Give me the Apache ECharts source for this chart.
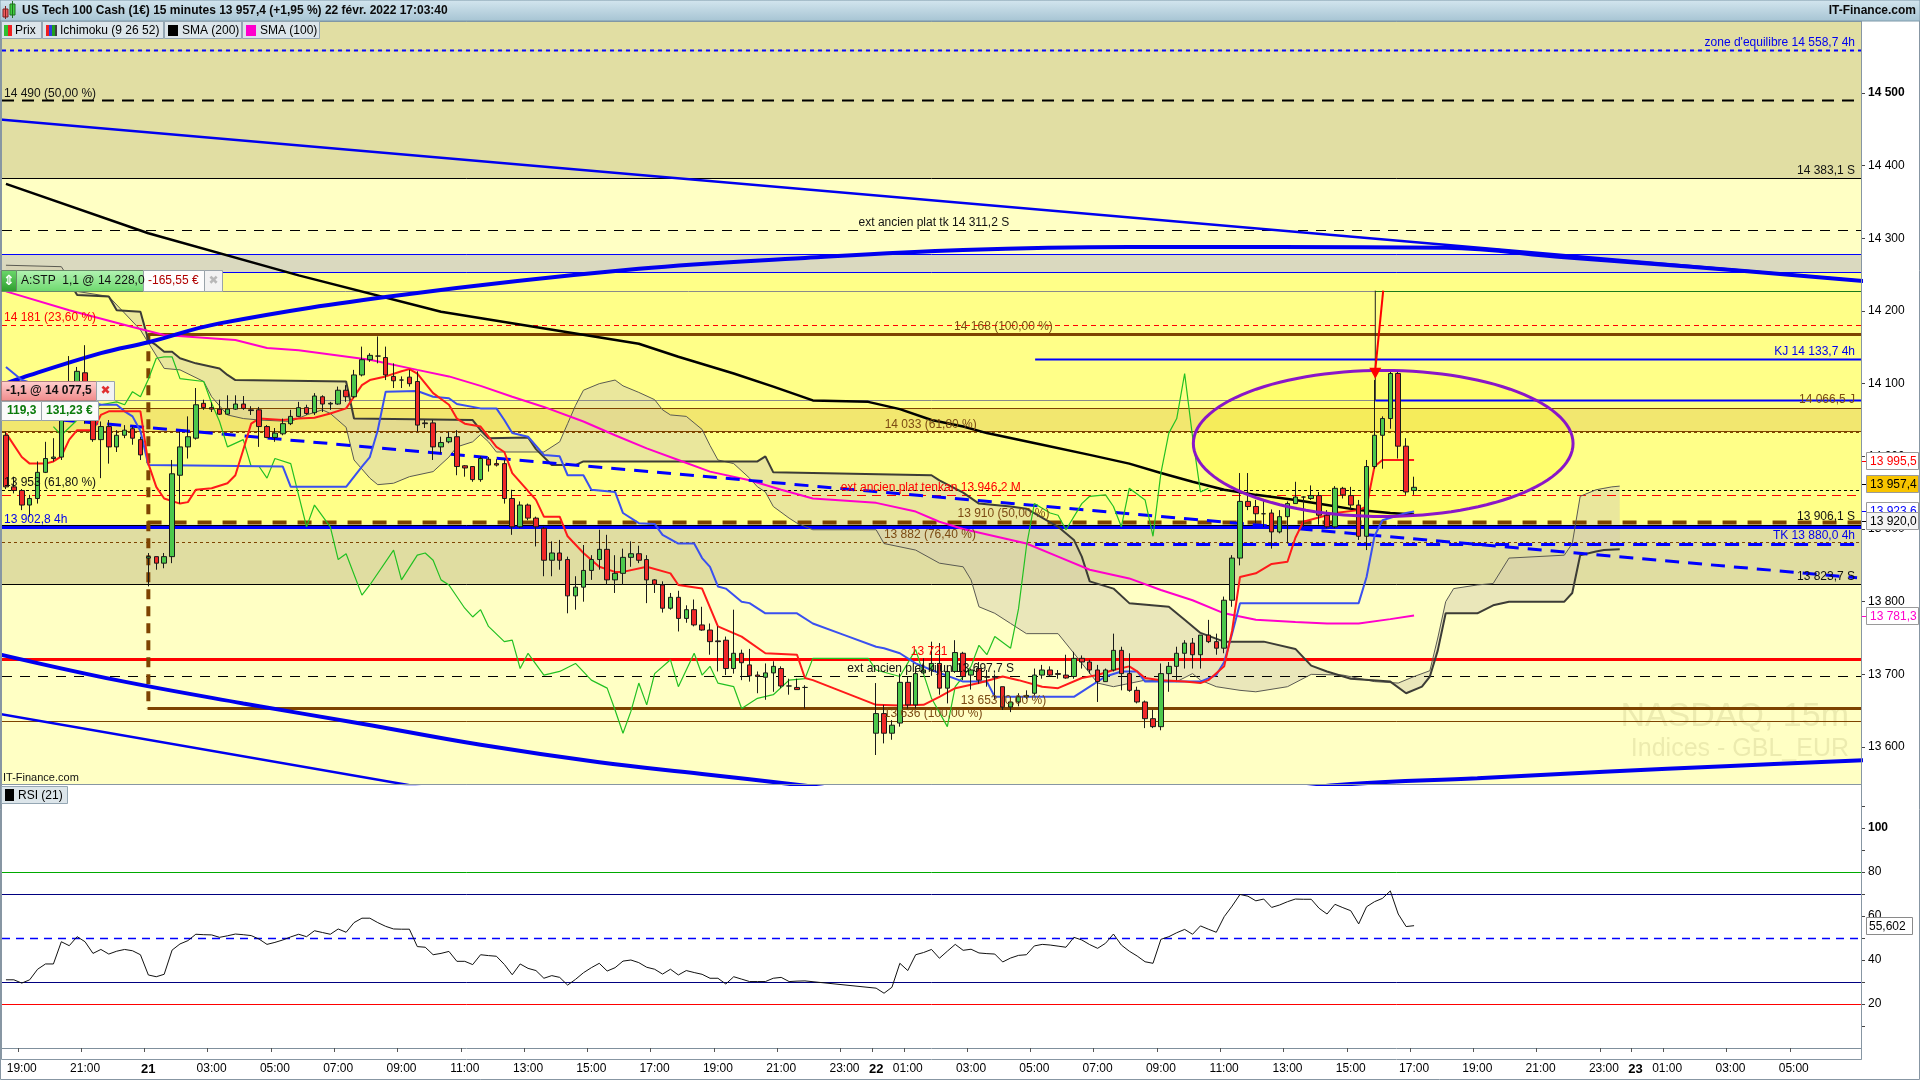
<!DOCTYPE html>
<html><head><meta charset="utf-8">
<script src="https://cdn.jsdelivr.net/npm/echarts@6/dist/echarts.min.js"></script>
<style>html,body{margin:0;padding:0;background:#fff;overflow:hidden}#c{width:1920px;height:1080px}</style>
</head><body><div id="c"></div>
<script>
const FONT = '"Liberation Sans", Arial, sans-serif';

// ---------- time slots (15 min) ----------
const N_SLOTS = 235;
const CATEGORIES = [];
for (let k = 0; k < N_SLOTS; k++) {
  const t = k < 18 ? Date.UTC(2022,1,20,18,30) + k*900000 : Date.UTC(2022,1,21,1,0) + (k-18)*900000;
  const d = new Date(t);
  CATEGORIES.push(d.getUTCDate() + '/02 ' + String(d.getUTCHours()).padStart(2,'0') + ':' + String(d.getUTCMinutes()).padStart(2,'0'));
}
const X_TICK_LABELS = {2:'19:00',10:'21:00',18:'21',26:'03:00',34:'05:00',42:'07:00',50:'09:00',58:'11:00',66:'13:00',74:'15:00',82:'17:00',90:'19:00',98:'21:00',106:'23:00',110:'22',114:'01:00',122:'03:00',130:'05:00',138:'07:00',146:'09:00',154:'11:00',162:'13:00',170:'15:00',178:'17:00',186:'19:00',194:'21:00',202:'23:00',206:'23',210:'01:00',218:'03:00',226:'05:00'};
const Y_TICKS = [13600,13700,13800,13900,14000,14100,14200,14300,14400,14500];
const RSI_LABELS = [20,40,60,80,100];
const RSI_TICKS = [10,20,30,40,50,60,70,80,90,100,110];

// ---------- candles [open, high, low, close] per slot ----------
const OHLC = [
[14029,14034,13955,13958],[13958,13972,13949,13953],[13953,13955,13926,13933],[13933,13947,13917,13942],[13942,13993,13935,13978],
[13978,14020,13977,13997],[13997,14025,13993,13999],[13999,14075,13995,14070],[14070,14138,14060,14103],[14103,14123,14095,14117],
[14115,14153,14045,14050],[14050,14064,14020,14023],[14023,14048,13970,14041],[14041,14050,13990,14013],[14013,14036,14006,14029],
[14029,14043,14025,14036],[14038,14041,14016,14025],[14023,14027,13995,14002],[13860,13867,13821,13862],[13862,13862,13844,13853],
[13853,13867,13846,13862],[13862,13995,13853,13976],[13974,14034,13935,14013],[14013,14055,13997,14027],[14025,14094,14023,14071],
[14073,14078,14064,14067],[14067,14074,14061,14065],[14065,14078,14057,14058],[14058,14084,14057,14065],[14065,14084,14064,14072],
[14072,14083,14064,14066],[14064,14069,14057,14063],[14064,14068,14013,14041],[14041,14043,14025,14026],[14026,14039,14020,14032],
[14031,14052,14029,14045],[14045,14064,14043,14055],[14055,14075,14054,14067],[14067,14071,14057,14059],[14060,14087,14057,14083],
[14082,14084,14061,14072],[14072,14075,14064,14073],[14072,14096,14071,14091],[14091,14098,14075,14082],[14082,14119,14080,14112],
[14112,14151,14110,14133],[14133,14142,14130,14139],[14138,14165,14128,14138],[14136,14151,14105,14112],[14110,14128,14094,14104],
[14105,14110,14094,14105],[14109,14119,14096,14100],[14103,14117,14034,14043],[14046,14050,14039,14045],[14046,14050,13995,14013],
[14013,14027,14004,14019],[14020,14034,14018,14026],[14027,14036,13974,13986],[13987,13988,13972,13984],[13986,13986,13965,13968],
[13968,14000,13965,13997],[13996,13999,13979,13988],[13990,13996,13986,13988],[13990,13995,13935,13942],[13942,13954,13892,13903],
[13903,13938,13901,13933],[13933,13935,13912,13915],[13915,13917,13876,13903],[13901,13903,13835,13857],[13857,13883,13835,13867],
[13867,13885,13844,13857],[13858,13862,13784,13808],[13808,13835,13789,13820],[13820,13878,13800,13843],[13843,13864,13830,13858],
[13858,13899,13844,13872],[13872,13892,13823,13830],[13830,13864,13812,13839],[13839,13873,13823,13861],[13861,13883,13848,13866],
[13866,13877,13853,13857],[13858,13864,13798,13830],[13830,13831,13812,13824],[13823,13828,13785,13791],[13791,13812,13789,13806],
[13806,13815,13759,13777],[13777,13795,13771,13789],[13789,13803,13766,13768],[13768,13793,13760,13761],[13761,13770,13727,13745],
[13746,13766,13704,13745],[13747,13752,13699,13708],[13708,13789,13701,13729],[13729,13734,13692,13716],[13713,13735,13690,13698],
[13699,13704,13674,13697],[13696,13715,13665,13702],[13702,13718,13676,13711],[13708,13711,13681,13684],[13684,13694,13672,13684],
[13682,13694,13679,13679],[13682,13685,13653,13682],
null,null,null,null,null,null,null,null,
[13619,13688,13589,13646],[13646,13658,13605,13619],[13619,13637,13610,13630],[13633,13701,13628,13689],[13689,13697,13653,13658],
[13658,13711,13653,13701],[13702,13722,13700,13706],[13706,13745,13698,13715],[13715,13743,13672,13681],[13681,13712,13660,13704],
[13704,13747,13702,13730],[13729,13731,13692,13697],[13699,13708,13679,13706],[13708,13717,13687,13692],[13697,13706,13683,13696],
[13697,13700,13665,13696],[13683,13683,13651,13655],[13655,13669,13648,13662],[13662,13674,13656,13669],[13669,13678,13666,13671],
[13674,13708,13671,13699],[13699,13713,13694,13706],[13706,13711,13697,13699],[13701,13706,13694,13700],[13699,13727,13694,13695],
[13697,13731,13694,13722],[13722,13726,13708,13717],[13717,13720,13701,13706],[13706,13713,13662,13690],[13690,13708,13690,13706],
[13706,13756,13704,13733],[13733,13738,13678,13701],[13701,13729,13676,13678],[13678,13683,13660,13662],[13662,13664,13626,13639],
[13639,13651,13626,13628],[13628,13715,13623,13701],[13701,13717,13676,13711],[13711,13738,13692,13729],[13729,13747,13708,13743],
[13743,13750,13708,13727],[13727,13754,13708,13754],[13754,13775,13743,13745],[13745,13756,13727,13736],[13736,13807,13729,13802],
[13802,13864,13793,13860],[13860,13977,13850,13938],[13938,13977,13926,13931],[13931,13940,13908,13921],[13921,13940,13903,13921],
[13922,13927,13873,13896],[13896,13926,13894,13917],[13917,13938,13880,13935],[13935,13965,13935,13944],[13944,13945,13903,13944],
[13942,13960,13940,13946],[13946,13951,13906,13919],[13919,13926,13901,13903],[13903,13959,13901,13956],[13956,13958,13942,13947],
[13946,13958,13926,13933],[13933,13940,13885,13890],[13890,13995,13871,13986],[13986,14105,13983,14029],[14029,14055,13983,14052],
[14052,14117,14038,14114],[14114,14117,13997,14014],[14014,14025,13947,13951],[13953,13972,13947,13957.4]
];

// ---------- indicators: [slot, value] ----------
const TENKAN = [[0,14032],[2,13999],[3,13990],[5,13990],[6,13993],[7,14000],[8,14023],[9,14036],[11,14036],[12,14057],[13,14062],[17,14062],[18,13990],[19,13958],[20,13942],[22,13935],[23,13937],[24,13954],[26,13956],[28,13963],[29,13974],[30,14009],[31,14045],[32,14052],[35,14050],[37,14052],[39,14053],[41,14059],[43,14066],[44,14082],[45,14098],[46,14105],[48,14110],[50,14117],[51,14120],[52,14114],[54,14087],[56,14071],[57,14052],[58,14045],[60,14041],[62,14013],[63,14006],[64,13977],[67,13940],[68,13917],[70,13917],[71,13890],[73,13867],[75,13848],[77,13841],[78,13841],[81,13848],[84,13839],[85,13823],[88,13818],[90,13766],[93,13752],[96,13729],[100,13727],[101,13695],[102,13692],[110,13658],[113,13657],[116,13658],[118,13669],[120,13681],[123,13688],[126,13697],[128,13692],[131,13683],[133,13681],[136,13695],[138,13699],[140,13706],[142,13711],[143,13704],[144,13695],[146,13692],[149,13690],[151,13688],[152,13692],[154,13711],[155,13760],[156,13834],[158,13839],[160,13852],[162,13855],[163,13888],[164,13910],[168,13922],[171,13926],[172,13931],[173,13986],[174,13995],[178,13995]];
const KIJUN = [[0,14123],[1,14114],[2,14105],[7,14088],[12,14071],[14,14071],[15,14062],[16,14055],[17,14035],[18,13988],[35,13986],[36,13958],[43,13958],[45,13986],[46,13999],[47,14036],[48,14089],[52,14090],[54,14082],[56,14080],[57,14072],[60,14066],[62,14066],[63,14050],[64,14032],[66,14027],[68,14002],[70,14000],[71,13974],[73,13974],[74,13954],[77,13951],[78,13922],[80,13908],[82,13907],[83,13892],[85,13880],[87,13880],[88,13860],[89,13848],[90,13821],[91,13818],[93,13800],[94,13798],[96,13784],[100,13784],[102,13770],[106,13754],[110,13738],[111,13736],[113,13729],[115,13715],[117,13706],[121,13690],[124,13690],[125,13669],[135,13669],[137,13683],[139,13697],[141,13704],[143,13704],[144,13690],[151,13690],[153,13699],[154,13717],[155,13756],[156,13798],[171,13798],[172,13834],[173,13890],[174,13912],[177,13922],[178,13924]];
const CHIKOU = [[6,14041],[7,14029],[9,14050],[12,14071],[14,14075],[15,14071],[16,14089],[17,14082],[18,14106],[19,14135],[20,14137],[21,14137],[22,14107],[25,14103],[26,14073],[27,14048],[28,14013],[30,14023],[31,13986],[32,13986],[33,13970],[34,13997],[36,13990],[38,13903],[39,13933],[41,13903],[42,13858],[43,13866],[45,13809],[46,13823],[49,13871],[50,13830],[52,13864],[53,13867],[54,13857],[55,13830],[56,13823],[58,13791],[59,13779],[60,13789],[61,13766],[63,13745],[64,13747],[65,13708],[66,13729],[68,13699],[70,13704],[72,13715],[74,13692],[76,13681],[77,13651],[78,13619],[79,13649],[80,13688],[81,13658],[82,13701],[84,13720],[85,13683],[87,13729],[88,13699],[89,13711],[90,13688],[92,13683],[93,13653],[95,13667],[97,13672],[99,13692],[101,13694],[102,13722],[109,13722],[110,13706],[113,13697],[115,13734],[117,13667],[119,13628],[120,13683],[122,13711],[123,13740],[124,13727],[125,13752],[127,13736],[128,13790],[129,13876],[130,13935],[132,13922],[133,13919],[134,13899],[136,13935],[137,13945],[139,13947],[140,13931],[141,13903],[142,13956],[144,13940],[145,13890],[146,13977],[147,14032],[148,14052],[149,14114],[150,14027],[151,13951],[152,13956]];
const SENKOU_A = [[0,14263],[7,14261],[9,14227],[13,14220],[17,14174],[20,14121],[22,14119],[25,14103],[26,14082],[28,14057],[30,14052],[32,14050],[36,14048],[38,14057],[40,14064],[41,14059],[43,14040],[44,13995],[46,13970],[47,13961],[49,13963],[51,13972],[54,13979],[56,13999],[57,14013],[59,14020],[60,14030],[61,14020],[62,14006],[68,14006],[70,14020],[71,14045],[72,14070],[73,14091],[75,14100],[77,14105],[78,14097],[80,14088],[82,14078],[83,14064],[84,14057],[86,14055],[88,14037],[89,14015],[90,13995],[92,13990],[94,13970],[95,13958],[96,13951],[97,13931],[99,13915],[100,13908],[102,13899],[110,13899],[111,13880],[115,13871],[118,13853],[121,13848],[122,13830],[123,13793],[125,13784],[127,13770],[129,13756],[133,13756],[135,13729],[138,13688],[140,13683],[144,13692],[148,13690],[150,13701],[151,13692],[153,13683],[156,13678],[158,13676],[162,13683],[165,13700],[169,13699],[173,13690],[176,13688],[178,13697],[180,13705],[181,13750],[182,13800],[183,13818],[186,13823],[188,13825],[190,13860],[197,13864],[198,13880],[199,13945],[201,13954],[203,13958],[204,13959]];
const SENKOU_B = [[0,14245],[8,14240],[9,14222],[13,14220],[14,14201],[17,14199],[18,14160],[19,14153],[20,14144],[21,14144],[22,14135],[24,14128],[27,14121],[28,14112],[29,14105],[43,14103],[44,14052],[59,14050],[60,14036],[61,14025],[66,14026],[67,14010],[69,13988],[72,13988],[73,13993],[95,13993],[96,14000],[97,13978],[117,13974],[118,13967],[121,13950],[123,13935],[127,13931],[129,13928],[133,13903],[135,13885],[136,13862],[137,13828],[140,13818],[142,13798],[147,13793],[149,13775],[151,13757],[154,13745],[159,13745],[163,13735],[165,13712],[167,13704],[170,13694],[175,13690],[177,13674],[179,13683],[180,13697],[181,13733],[182,13784],[186,13784],[188,13795],[190,13800],[197,13800],[198,13812],[199,13864],[201,13869],[202,13871],[204,13872]];
const SMA200 = [[0,14375],[18,14307],[37,14249],[55,14199],[80,14155],[85,14137],[92,14114],[97,14096],[102,14077],[109,14075],[113,14065],[117,14050],[121,14041],[124,14032],[131,14016],[137,14002],[142,13990],[146,13977],[150,13965],[154,13954],[158,13947],[163,13940],[167,13933],[171,13926],[175,13922],[178,13920]];
const SMA100 = [[0,14227],[8,14201],[16,14178],[20,14167],[29,14160],[33,14149],[37,14146],[46,14133],[52,14119],[56,14110],[60,14097],[64,14082],[68,14068],[73,14048],[77,14029],[81,14011],[85,13995],[89,13979],[94,13967],[98,13954],[102,13942],[110,13936],[115,13924],[118,13910],[121,13900],[125,13890],[129,13880],[133,13862],[137,13844],[142,13832],[146,13816],[150,13802],[154,13784],[158,13775],[163,13772],[167,13770],[171,13770],[175,13776],[178,13781]];
const RSI = [31,31,29.5,31,35.8,38.2,38.2,48.3,46.5,50.6,48.3,43,44.8,42.7,44,44.8,44.2,42.4,33.2,32.4,33.5,44.5,47.3,48.8,51.7,51.5,51.4,50.3,51,51.8,51.5,51.1,49.5,47.1,48,49.1,50.5,51.7,50.6,53.3,52.5,51.7,54.1,52.6,57,59,59,57,55.3,54.1,54,54,46.1,45.8,42.4,43,43.9,39.4,39.4,37.9,42.4,42,41.7,38,33.3,38.2,36.2,35.2,31.7,32.9,32.1,28.6,31.2,34.2,36.5,38.5,35,36.5,39.5,40,38.8,36.7,35.8,33.6,35.8,33.2,35.2,34.3,33.5,31.7,31.7,29.1,32.4,31.3,30.2,30.2,30.2,31.7,32.1,30.2,30.4,30.5,
null,null,null,null,null,null,null,null,
27.2,24.9,27.6,38.5,35.2,42.4,43.4,44.8,40.8,44,47.1,44.4,44.9,43.2,42.9,42.7,39.1,40.9,42.1,42.4,46.4,47.1,46.8,46.3,45.8,50.3,49.1,47,45.3,47.6,51.8,46.8,44,41.8,39.2,38.5,49.4,50.6,52.4,53.9,51.7,55.5,54,52.6,59.7,64.5,69.8,69,66.9,67.7,63.9,65,66.5,67.7,67.6,67.6,63.5,60.9,65.3,63.8,62.4,56.4,64.2,66.5,68,71.4,60.9,55.2,55.6];

// ---------- drawn trendlines / arcs [slot, value] ----------
const UP_ARC = [[-1,14096],[2,14108],[12,14142],[18,14157],[27,14183],[50,14222],[80,14258],[101,14273],[121,14284],[142,14288],[161,14288],[182,14287],[197,14274],[213,14261],[235,14241]];
const UP_LINE = [[-1,14463.7],[235,14241.1]];
const LOW_ARC_L = [[-1,13728],[14,13692],[30,13660],[45,13632],[60,13603],[75,13579],[88,13563],[100,13548],[110,13535]];
const LOW_ARC_R = [[160,13538],[170,13549],[186,13557],[202,13566],[218,13574],[235,13582]];
const LOW_LINE = [[-1,13646],[56,13538]];
const TREND_DASH = [[7,14050],[234,13833]];
const ELLIPSE = {cx:174.1, cy:14017.7, rx:24.0, ry:100.5};
const ARROW = {from:[174.1,14228], to:[173.1,14108]};

// ---------- price levels ----------
const ZONES = [ // [top, bottom, color]
 [14600,14383.1,'#E1DEA3'],[14383.1,14278.5,'#FFFFC4'],[14278.5,14253.7,'#DAD9BF'],[14253.7,14066.5,'#FFFF88'],
 [14066.5,14035,'#F2E76F'],[14035,13906.1,'#FFFF88'],[13906.1,13823.7,'#E0DDA1'],[13823.7,13540,'#FFFFC4']];
const LINE_STYLES = {
 blueDot:{stroke:'#0000FF',lineWidth:2,lineDash:[4,4]},
 blackDashBold:{stroke:'#000',lineWidth:2,lineDash:[12,8]},
 black1:{stroke:'#000',lineWidth:1},
 blackDash:{stroke:'#000',lineWidth:1,lineDash:[10,8]},
 blue1:{stroke:'#0000FF',lineWidth:1},
 gray1:{stroke:'#8a8a8a',lineWidth:1},
 green1:{stroke:'#1a7a1a',lineWidth:1},
 redDash:{stroke:'#FF0000',lineWidth:1,lineDash:[5,4]},
 redDash2:{stroke:'#FF0000',lineWidth:1,lineDash:[9,6]},
 brown3:{stroke:'#7E4300',lineWidth:3},
 brown1:{stroke:'#7E4300',lineWidth:1},
 brownDot:{stroke:'#7E4300',lineWidth:1,lineDash:[3,3]},
 brownDash4:{stroke:'#7E4300',lineWidth:4,lineDash:[14,11]},
 blackDot:{stroke:'#000',lineWidth:1,lineDash:[3,3]},
 blue2:{stroke:'#0000FF',lineWidth:2},
 blue3:{stroke:'#0000FF',lineWidth:3},
 blueDash3:{stroke:'#0000FF',lineWidth:3,lineDash:[14,9]},
 red3:{stroke:'#FF0000',lineWidth:3}
};
const HLINES = [ // [value, style, fromSlot, toSlot]
 [14558.7,'blueDot'],[14490,'blackDashBold'],[14383.1,'black1'],[14311.2,'blackDash'],[14278.5,'blue1'],[14253.7,'blue1'],
 [14228,'gray1',-0.5,173.1],[14228,'green1',173.1],[14181,'redDash'],[14168,'brown3',17.9],[14133.7,'blue2',130.1],
 [14077.5,'gray1'],[14077.5,'blue2',173.1],[14066.5,'brown1'],[14035,'brown1'],[14033,'brownDot'],[13953,'blackDot'],
 [13946.2,'redDash2'],[13910,'brownDash4',17.9],[13906.1,'black1'],[13902.8,'blue3'],[13882,'brownDot'],[13880,'blueDash3',130.1],
 [13823.7,'black1'],[13721,'red3'],[13697.7,'blackDash'],[13653,'brown3',17.9],[13636,'brown1']];
const FIB_VERTICAL = {slot:18, top:14168, bottom:13653};
const TEXT_COLORS = {black:'#111', blue:'#0000EE', red:'#FF0000', brown:'#7B4A12'};
const TEXTS = [ // [text, anchor, slot, centerValue, color]
 ["zone d'equilibre 14 558,7 4h",'R',null,14569.2,'blue'],['14 490 (50,00 %)','L',null,14499.6,'black'],
 ['14 383,1 S','R',null,14393,'black'],['ext ancien plat tk 14 311,2 S','C',117.3,14321.5,'black'],
 ['14 181 (23,60 %)','L',null,14191.3,'red'],['14 168 (100,00 %)','C',126.1,14178.4,'brown'],
 ['KJ 14 133,7 4h','R',null,14144,'blue'],['14 066,5 J','R',null,14077.5,'brown'],
 ['14 033 (61,80 %)','C',116.9,14043.1,'brown'],['13 953 (61,80 %)','L',null,13963.7,'black'],
 ['ext ancien plat tenkan 13 946,2 M','C',116.9,13956.9,'red'],['13 910 (50,00 %)','C',126.1,13921.6,'brown'],
 ['13 906,1 S','R',null,13917,'black'],['13 902,8 4h','L',null,13912.4,'blue'],
 ['13 882 (76,40 %)','C',116.8,13891.8,'brown'],['TK 13 880,0 4h','R',null,13890.9,'blue'],
 ['13 823,7 S','R',null,13834.4,'black'],['13 721','C',116.7,13731.2,'red'],
 ['ext ancien plat kijun 13 697,7 S','C',116.9,13707.4,'black'],['13 653 (0,00 %)','C',126.1,13663.8,'brown'],
 ['13 636 (100,00 %)','C',117.2,13646.4,'brown']];
const PRICE_TAGS = [ // [value, text, textColor, bg, dy]
 [13995.5,'13 995,5','#FF0000','#FFFFFF',1],[13957.4,'13 957,4','#000','#F8C400',-3],
 [13923.6,'13 923,6','#0000FF','#FFFFFF',-1],[13920.0,'13 920,0','#000','#F4F4F4',7],[13781.3,'13 781,3','#FF00CC','#FFFFFF',1]];
const RSI_LEVELS = [[80,'#00AA00',1,null],[70,'#000080',1,null],[50,'#0000FF',1.5,[8,6]],[30,'#000080',1,null],[20,'#FF0000',1,null]];
const RSI_LAST = [55.602,'55,602'];

const Y_MIN = 13549.1, Y_MAX = 14599.1;
const fmt = v => String(v).replace(/\B(?=(\d{3})+(?!\d))/g, ' ');

function slotX(api, slot) { return api.coord([0, Y_MIN])[0] + slot * api.size([1, 0])[0]; }

function lineSeries(name, data, color, width, z, extra) {
  return Object.assign({name, type:'line', xAxisIndex:0, yAxisIndex:0, data, showSymbol:false, symbol:'none',
    silent:true, z, lineStyle:{color, width}, animation:false}, extra || {});
}

const chart = echarts.init(document.getElementById('c'), null, {renderer:'canvas', width:1920, height:1080});

const option = {
  animation:false,
  backgroundColor:'#FFFFFF',
  textStyle:{fontFamily:FONT},
  grid:[{left:2, top:21, width:1859, height:763}, {left:2, top:784, width:1859, height:275}],
  xAxis:[
    {type:'category', gridIndex:0, data:CATEGORIES, boundaryGap:true, axisLine:{show:false}, axisTick:{show:false}, axisLabel:{show:false}, splitLine:{show:false}},
    {type:'category', gridIndex:1, data:CATEGORIES, boundaryGap:true, position:'bottom',
     axisLine:{show:true, lineStyle:{color:'#7f8f9c'}},
     axisTick:{show:true, interval:(i)=>X_TICK_LABELS[i]!==undefined, length:4, lineStyle:{color:'#555'}},
     axisLabel:{interval:(i)=>X_TICK_LABELS[i]!==undefined, margin:4, fontSize:12, color:'#000', fontFamily:FONT,
       formatter:(v,i)=>{const t=X_TICK_LABELS[i]; if(t===undefined) return ''; return t.indexOf(':')<0 ? '{d|'+t+'}' : t;},
       rich:{d:{fontWeight:'bold', fontSize:13, fontFamily:FONT, color:'#000'}}},
     splitLine:{show:false}}
  ],
  yAxis:[
    {type:'value', gridIndex:0, position:'right', min:Y_MIN, max:Y_MAX, scale:true,
     axisLine:{show:true, lineStyle:{color:'#7f8f9c'}}, splitLine:{show:false},
     axisTick:{show:true, customValues:Y_TICKS, length:4, lineStyle:{color:'#444'}},
     axisLabel:{customValues:Y_TICKS, margin:7, fontSize:12, color:'#000', fontFamily:FONT,
       formatter:v=> v===14500 ? '{b|14 500}' : fmt(v), rich:{b:{fontWeight:'bold', fontSize:12, fontFamily:FONT, color:'#000'}}}},
    {type:'value', gridIndex:1, position:'right', min:-5, max:120,
     axisLine:{show:true, lineStyle:{color:'#7f8f9c'}}, splitLine:{show:false},
     axisTick:{show:true, customValues:RSI_TICKS, length:4, lineStyle:{color:'#444'}},
     axisLabel:{customValues:RSI_LABELS, margin:7, fontSize:12, color:'#000', fontFamily:FONT,
       formatter:v=> v===100 ? '{b|100}' : String(v), rich:{b:{fontWeight:'bold', fontSize:12, fontFamily:FONT, color:'#000'}}}}
  ],
  series:[
    // zones
    {type:'custom', xAxisIndex:0, yAxisIndex:0, z:0, silent:true, clip:true, data:ZONES.map((_,i)=>[0,i]),
     renderItem:(params, api)=>{
       const zn = ZONES[params.dataIndex]; const cs = params.coordSys;
       const y1 = api.coord([0, zn[0]])[1], y2 = api.coord([0, zn[1]])[1];
       return {type:'rect', shape:{x:cs.x, y:Math.min(y1,y2), width:cs.width, height:Math.abs(y2-y1)}, style:{fill:zn[2]}};
     }},
    // ellipse fill
    {type:'custom', xAxisIndex:0, yAxisIndex:0, z:1, silent:true, clip:true, data:[[0,0]],
     renderItem:(params, api)=>{
       const bw = api.size([1,0])[0]; const c = api.coord([0, ELLIPSE.cy]);
       const cx = slotX(api, ELLIPSE.cx); const rx = ELLIPSE.rx*bw;
       const ry = Math.abs(api.coord([0, ELLIPSE.cy+ELLIPSE.ry])[1]-c[1]);
       const pts=[]; for(let k=0;k<120;k++){const a=k/120*Math.PI*2; pts.push([cx+rx*Math.cos(a), c[1]+ry*Math.sin(a)]);}
       return {type:'polygon', shape:{points:pts}, style:{fill:'rgba(255,250,40,0.28)'}};
     }},
    // ichimoku cloud fill
    {type:'custom', xAxisIndex:0, yAxisIndex:0, z:1, silent:true, clip:true, data:[[0,0]],
     renderItem:(params, api)=>{
       const pts = SENKOU_A.map(p=>api.coord(p)).concat(SENKOU_B.slice().reverse().map(p=>api.coord(p)));
       return {type:'polygon', shape:{points:pts}, style:{fill:'rgba(214,208,175,0.5)'}};
     }},
    // horizontal levels + fib vertical
    {type:'custom', xAxisIndex:0, yAxisIndex:0, z:2, silent:true, clip:true, data:HLINES.map((_,i)=>[0,i]).concat([[0,-1]]),
     renderItem:(params, api)=>{
       if (params.dataIndex === HLINES.length) {
         const x = slotX(api, FIB_VERTICAL.slot);
         return {type:'line', shape:{x1:x, y1:api.coord([0,FIB_VERTICAL.top])[1], x2:x, y2:api.coord([0,FIB_VERTICAL.bottom])[1]},
                 style:{stroke:'#7E4300', lineWidth:4, lineDash:[10,7]}};
       }
       const h = HLINES[params.dataIndex]; const y = Math.round(api.coord([0,h[0]])[1]) + 0.5;
       const x1 = slotX(api, h[2]==null ? -0.5 : h[2]); const x2 = slotX(api, h[3]==null ? 234.5 : h[3]);
       return {type:'line', shape:{x1, y1:y, x2, y2:y}, style:Object.assign({}, LINE_STYLES[h[1]])};
     }},
    // cloud borders
    lineSeries('Senkou A', SENKOU_A, '#5a5a52', 1, 3),
    lineSeries('Senkou B', SENKOU_B, '#3c3c36', 2, 3),
    // SMAs
    lineSeries('SMA (200)', SMA200, '#000000', 2.5, 3),
    lineSeries('SMA (100)', SMA100, '#FF00CC', 2, 3),
    // blue drawings
    lineSeries('arc up', UP_ARC, '#0000EE', 4, 3, {smooth:0.4}),
    lineSeries('line up', UP_LINE, '#0000EE', 2.5, 3),
    lineSeries('arc low L', LOW_ARC_L, '#0000EE', 4, 3, {smooth:0.4}),
    lineSeries('arc low R', LOW_ARC_R, '#0000EE', 4, 3, {smooth:0.4}),
    lineSeries('line low', LOW_LINE, '#0000EE', 2.5, 3),
    lineSeries('trend', TREND_DASH, '#0000FF', 3, 3, {lineStyle:{color:'#0000FF', width:3, type:[14,9]}}),
    // ichimoku lines
    lineSeries('Chikou', CHIKOU, '#22C022', 1.2, 4),
    lineSeries('Kijun', KIJUN, '#3A50F0', 2, 4),
    lineSeries('Tenkan', TENKAN, '#FF1A1A', 2, 4),
    // candles
    {name:'Prix', type:'candlestick', xAxisIndex:0, yAxisIndex:0, z:5, barWidth:5, silent:true,
     data:OHLC.map(d=>d ? [d[0], d[3], d[2], d[1]] : '-'),
     itemStyle:{color:'#4CC84C', color0:'#F02828', borderColor:'#1a1a1a', borderColor0:'#1a1a1a', borderWidth:1}},
    // ellipse stroke
    {type:'custom', xAxisIndex:0, yAxisIndex:0, z:6, silent:true, clip:true, data:[[0,0]],
     renderItem:(params, api)=>{
       const bw = api.size([1,0])[0]; const c = api.coord([0, ELLIPSE.cy]);
       const cx = slotX(api, ELLIPSE.cx); const rx = ELLIPSE.rx*bw;
       const ry = Math.abs(api.coord([0, ELLIPSE.cy+ELLIPSE.ry])[1]-c[1]);
       const pts=[]; for(let k=0;k<120;k++){const a=k/120*Math.PI*2; pts.push([cx+rx*Math.cos(a), c[1]+ry*Math.sin(a)]);}
       return {type:'polygon', shape:{points:pts}, style:{fill:null, stroke:'#8A16C8', lineWidth:3}};
     }},
    // arrow
    {type:'custom', xAxisIndex:0, yAxisIndex:0, z:7, silent:true, clip:true, data:[[0,0]],
     renderItem:(params, api)=>{
       const x1 = slotX(api, ARROW.from[0]), y1 = api.coord([0, ARROW.from[1]])[1];
       const x2 = slotX(api, ARROW.to[0]), y2 = api.coord([0, ARROW.to[1]])[1];
       const yv = api.coord([0, 14077.5])[1];
       return {type:'group', children:[
         {type:'line', shape:{x1:x2, y1:y1, x2:x2, y2:yv}, style:{stroke:'#222', lineWidth:1}},
         {type:'line', shape:{x1, y1, x2, y2:y2-8}, style:{stroke:'#FF0000', lineWidth:2}},
         {type:'polygon', shape:{points:[[x2-6,y2-10],[x2+6,y2-10],[x2,y2+1]]}, style:{fill:'#FF0000'}}
       ]};
     }},
    // text labels
    {type:'custom', xAxisIndex:0, yAxisIndex:0, z:8, silent:true, clip:false, data:TEXTS.map((_,i)=>[0,i]),
     renderItem:(params, api)=>{
       const t = TEXTS[params.dataIndex]; const cs = params.coordSys;
       const y = api.coord([0, t[3]])[1];
       let x, align;
       if (t[1]==='L') { x = cs.x + 2; align='left'; }
       else if (t[1]==='R') { x = cs.x + cs.width - 6; align='right'; }
       else { x = slotX(api, t[2]); align='center'; }
       return {type:'text', x, y, style:{text:t[0], fill:TEXT_COLORS[t[4]], font:'12px '+FONT, align, verticalAlign:'middle', textAlign:align, textVerticalAlign:'middle'}};
     }},
    // watermark
    {type:'custom', xAxisIndex:0, yAxisIndex:0, z:1, silent:true, clip:false, data:[[0,0]],
     renderItem:(params, api)=>{
       const cs = params.coordSys; const xr = cs.x + cs.width - 12;
       return {type:'group', children:[
         {type:'text', x:xr, y:api.coord([0,13641.4])[1], style:{text:'NASDAQ, 15m', fill:'rgba(170,165,100,0.22)', font:'34px '+FONT, align:'right', verticalAlign:'middle', textAlign:'right', textVerticalAlign:'middle'}},
         {type:'text', x:xr, y:api.coord([0,13597])[1], style:{text:'Indices - GBL_EUR', fill:'rgba(170,165,100,0.22)', font:'25px '+FONT, align:'right', verticalAlign:'middle', textAlign:'right', textVerticalAlign:'middle'}}
       ]};
     }},
    // price tags on the right axis
    {type:'custom', xAxisIndex:0, yAxisIndex:0, z:9, silent:true, clip:false, data:PRICE_TAGS.map((_,i)=>[0,i]),
     renderItem:(params, api)=>{
       const p = PRICE_TAGS[params.dataIndex]; const cs = params.coordSys;
       const y = Math.round(api.coord([0,p[0]])[1]) + p[4]; const x = cs.x + cs.width + 5;
       return {type:'group', children:[
         {type:'line', shape:{x1:cs.x+cs.width, y1:y+0.5, x2:x, y2:y+0.5}, style:{stroke:p[2], lineWidth:1}},
         {type:'rect', shape:{x:x+0.5, y:y-8.5, width:52, height:17}, style:{fill:p[3], stroke:'#9a9a9a', lineWidth:1}},
         {type:'text', x:x+4, y:y+0.5, style:{text:p[1], fill:p[2], font:'12px '+FONT, align:'left', verticalAlign:'middle', textAlign:'left', textVerticalAlign:'middle'}}
       ]};
     }},
    // RSI levels
    {type:'custom', xAxisIndex:1, yAxisIndex:1, z:2, silent:true, clip:true, data:RSI_LEVELS.map((_,i)=>[0,i]),
     renderItem:(params, api)=>{
       const l = RSI_LEVELS[params.dataIndex]; const cs = params.coordSys;
       const y = Math.round(api.coord([0,l[0]])[1]) + 0.5;
       const st = {stroke:l[1], lineWidth:l[2]}; if (l[3]) st.lineDash = l[3];
       return {type:'line', shape:{x1:cs.x, y1:y, x2:cs.x+cs.width, y2:y}, style:st};
     }},
    {name:'RSI (21)', type:'line', xAxisIndex:1, yAxisIndex:1, data:RSI, showSymbol:false, symbol:'none', connectNulls:true,
     silent:true, z:4, lineStyle:{color:'#111', width:1}},
    {type:'custom', xAxisIndex:1, yAxisIndex:1, z:9, silent:true, clip:false, data:[[0,0]],
     renderItem:(params, api)=>{
       const cs = params.coordSys; const y = Math.round(api.coord([0,RSI_LAST[0]])[1]); const x = cs.x + cs.width + 5;
       return {type:'group', children:[
         {type:'rect', shape:{x:x+0.5, y:y-8.5, width:46, height:17}, style:{fill:'#fff', stroke:'#8a8a8a', lineWidth:1}},
         {type:'text', x:x+3, y:y+0.5, style:{text:RSI_LAST[1], fill:'#000', font:'12px '+FONT, align:'left', verticalAlign:'middle', textAlign:'left', textVerticalAlign:'middle'}}
       ]};
     }}
  ],
  graphic:[
    // header
    {type:'rect', z:100, shape:{x:0,y:0,width:1920,height:21}, style:{fill:{type:'linear',x:0,y:0,x2:0,y2:1,colorStops:[{offset:0,color:'#D4E6EF'},{offset:1,color:'#A6C4D3'}]}, stroke:'#7d98a8', lineWidth:1}},
    {type:'rect', z:101, shape:{x:3,y:9,width:5,height:8}, style:{fill:'#F06060', stroke:'#802020', lineWidth:1}},
    {type:'line', z:101, shape:{x1:5.5,y1:6,x2:5.5,y2:19}, style:{stroke:'#802020', lineWidth:1}},
    {type:'rect', z:101, shape:{x:10,y:4,width:5,height:11}, style:{fill:'#40D040', stroke:'#207020', lineWidth:1}},
    {type:'line', z:101, shape:{x1:12.5,y1:1,x2:12.5,y2:18}, style:{stroke:'#207020', lineWidth:1}},
    {type:'text', z:101, x:22, y:11, style:{text:'US Tech 100 Cash (1€) 15 minutes 13 957,4 (+1,95 %) 22 févr. 2022 17:03:40', fill:'#0a0a0a', font:'bold 12px '+FONT, verticalAlign:'middle', textVerticalAlign:'middle'}},
    {type:'text', z:101, x:1916, y:11, style:{text:'IT-Finance.com', fill:'#0a0a0a', font:'bold 12px '+FONT, align:'right', verticalAlign:'middle', textAlign:'right', textVerticalAlign:'middle'}},
    // legend buttons
    {type:'rect', z:100, shape:{x:1.5,y:21.5,width:40,height:17}, style:{fill:'#DCE5EA', stroke:'#94A6B3', lineWidth:1}},
    {type:'rect', z:101, shape:{x:4,y:25,width:4,height:11}, style:{fill:'#30C030'}},
    {type:'rect', z:101, shape:{x:8,y:25,width:4,height:11}, style:{fill:'#F02020'}},
    {type:'text', z:101, x:15, y:30.5, style:{text:'Prix', fill:'#000', font:'12px '+FONT, verticalAlign:'middle', textVerticalAlign:'middle'}},
    {type:'rect', z:100, shape:{x:42.5,y:21.5,width:121,height:17}, style:{fill:'#DCE5EA', stroke:'#94A6B3', lineWidth:1}},
    {type:'rect', z:101, shape:{x:46,y:25,width:3,height:11}, style:{fill:'#F02020'}},
    {type:'rect', z:101, shape:{x:49,y:25,width:3,height:11}, style:{fill:'#3040E0'}},
    {type:'rect', z:101, shape:{x:52,y:25,width:3,height:11}, style:{fill:'#20A020'}},
    {type:'rect', z:101, shape:{x:55,y:25,width:2,height:11}, style:{fill:'#404040'}},
    {type:'text', z:101, x:60, y:30.5, style:{text:'Ichimoku (9 26 52)', fill:'#000', font:'12px '+FONT, verticalAlign:'middle', textVerticalAlign:'middle'}},
    {type:'rect', z:100, shape:{x:164.5,y:21.5,width:77,height:17}, style:{fill:'#DCE5EA', stroke:'#94A6B3', lineWidth:1}},
    {type:'rect', z:101, shape:{x:168,y:25,width:10,height:11}, style:{fill:'#000'}},
    {type:'text', z:101, x:182, y:30.5, style:{text:'SMA (200)', fill:'#000', font:'12px '+FONT, verticalAlign:'middle', textVerticalAlign:'middle'}},
    {type:'rect', z:100, shape:{x:242.5,y:21.5,width:77,height:17}, style:{fill:'#DCE5EA', stroke:'#94A6B3', lineWidth:1}},
    {type:'rect', z:101, shape:{x:246,y:25,width:10,height:11}, style:{fill:'#FF00CC'}},
    {type:'text', z:101, x:260, y:30.5, style:{text:'SMA (100)', fill:'#000', font:'12px '+FONT, verticalAlign:'middle', textVerticalAlign:'middle'}},
    // order box A:STP
    {type:'rect', z:100, shape:{x:1.5,y:270.5,width:15,height:21}, style:{fill:{type:'linear',x:0,y:0,x2:0,y2:1,colorStops:[{offset:0,color:'#6CD86C'},{offset:1,color:'#2C9C2C'}]}, stroke:'#6a8a6a', lineWidth:1}},
    {type:'text', z:101, x:9, y:281, style:{text:'⇕', fill:'#fff', font:'bold 14px "DejaVu Sans", sans-serif', align:'center', verticalAlign:'middle', textAlign:'center', textVerticalAlign:'middle'}},
    {type:'rect', z:100, shape:{x:16.5,y:270.5,width:127,height:21}, style:{fill:{type:'linear',x:0,y:0,x2:0,y2:1,colorStops:[{offset:0,color:'#B4F4B4'},{offset:1,color:'#6CD86C'}]}, stroke:'#6a8a6a', lineWidth:1}},
    {type:'text', z:101, x:21, y:281, style:{text:'A:STP  1,1 @ 14 228,0', fill:'#111', font:'12px '+FONT, verticalAlign:'middle', textVerticalAlign:'middle'}},
    {type:'rect', z:100, shape:{x:143.5,y:270.5,width:61,height:21}, style:{fill:'#FDFDFD', stroke:'#9aa4aa', lineWidth:1}},
    {type:'text', z:101, x:148, y:281, style:{text:'-165,55 €', fill:'#B00000', font:'12px '+FONT, verticalAlign:'middle', textVerticalAlign:'middle'}},
    {type:'rect', z:100, shape:{x:204.5,y:270.5,width:18,height:21}, style:{fill:'#F2F2F2', stroke:'#9aa4aa', lineWidth:1}},
    {type:'text', z:101, x:213.5, y:281, style:{text:'✖', fill:'#B8B8B8', font:'12px "DejaVu Sans", sans-serif', align:'center', verticalAlign:'middle', textAlign:'center', textVerticalAlign:'middle'}},
    // order box -1,1
    {type:'rect', z:100, shape:{x:1.5,y:381.5,width:95,height:19}, style:{fill:{type:'linear',x:0,y:0,x2:0,y2:1,colorStops:[{offset:0,color:'#FFD0D0'},{offset:1,color:'#F08A8A'}]}, stroke:'#b08080', lineWidth:1}},
    {type:'text', z:101, x:6, y:391, style:{text:'-1,1 @ 14 077,5', fill:'#111', font:'bold 12px '+FONT, verticalAlign:'middle', textVerticalAlign:'middle'}},
    {type:'rect', z:100, shape:{x:96.5,y:381.5,width:18,height:19}, style:{fill:'#F2F2F2', stroke:'#9aa4aa', lineWidth:1}},
    {type:'text', z:101, x:105.5, y:391, style:{text:'✖', fill:'#E03030', font:'bold 12px "DejaVu Sans", sans-serif', align:'center', verticalAlign:'middle', textAlign:'center', textVerticalAlign:'middle'}},
    {type:'rect', z:100, shape:{x:1.5,y:401.5,width:40,height:19}, style:{fill:'#FBFBFB', stroke:'#9aa4aa', lineWidth:1}},
    {type:'text', z:101, x:7, y:411, style:{text:'119,3', fill:'#0A7A0A', font:'bold 12px '+FONT, verticalAlign:'middle', textVerticalAlign:'middle'}},
    {type:'rect', z:100, shape:{x:41.5,y:401.5,width:57,height:19}, style:{fill:'#FBFBFB', stroke:'#9aa4aa', lineWidth:1}},
    {type:'text', z:101, x:46, y:411, style:{text:'131,23 €', fill:'#0A7A0A', font:'bold 12px '+FONT, verticalAlign:'middle', textVerticalAlign:'middle'}},
    // pane frames
    {type:'rect', z:99, shape:{x:1.5,y:21.5,width:1860,height:763}, style:{fill:null, stroke:'#8796a3', lineWidth:1}},
    {type:'rect', z:99, shape:{x:1.5,y:784.5,width:1860,height:275}, style:{fill:null, stroke:'#8796a3', lineWidth:1}},
    {type:'rect', z:99, shape:{x:0.5,y:0.5,width:1919,height:1079}, style:{fill:null, stroke:'#8796a3', lineWidth:1}},
    {type:'text', z:101, x:3, y:778, style:{text:'IT-Finance.com', fill:'#111', font:'11px '+FONT, verticalAlign:'middle', textVerticalAlign:'middle'}},
    // RSI legend
    {type:'rect', z:100, shape:{x:1.5,y:786.5,width:66,height:17}, style:{fill:'#DCE5EA', stroke:'#94A6B3', lineWidth:1}},
    {type:'rect', z:101, shape:{x:5,y:789,width:9,height:12}, style:{fill:'#000'}},
    {type:'text', z:101, x:18, y:795.5, style:{text:'RSI (21)', fill:'#000', font:'12px '+FONT, verticalAlign:'middle', textVerticalAlign:'middle'}}
  ]
};
chart.setOption(option);
</script></body></html>
